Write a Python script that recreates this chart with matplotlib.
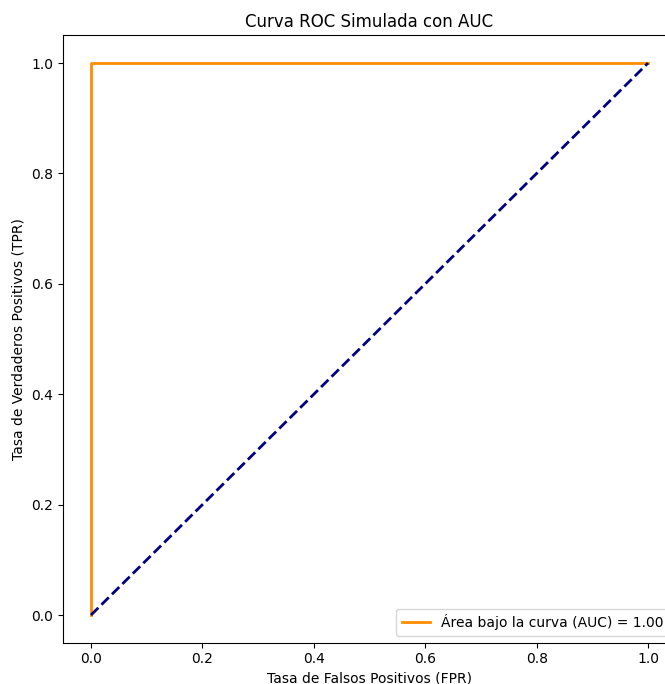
import matplotlib
matplotlib.use("Agg")
import matplotlib.pyplot as plt

# puntos de la curva ROC simulada
fpr = [0.0, 0.0, 1.0]
tpr = [0.0, 1.0, 1.0]
roc_auc = 1.00

# diagonal de referencia
diag_x = [0, 1]
diag_y = [0, 1]

fig = plt.figure(figsize=(6.65, 6.84), dpi=100)
ax = fig.add_axes([0.095, 0.0605, 0.9214, 0.8877])

ax.plot(fpr, tpr, color='darkorange', lw=2, label=f'Área bajo la curva (AUC) = {roc_auc:.2f}')
ax.plot(diag_x, diag_y, color='navy', lw=2, linestyle='--')

ax.set_xlabel('Tasa de Falsos Positivos (FPR)')
ax.set_ylabel('Tasa de Verdaderos Positivos (TPR)')
ax.set_title('Curva ROC Simulada con AUC')
ax.legend(loc='lower right')

fig.savefig('out.png', dpi=100)
